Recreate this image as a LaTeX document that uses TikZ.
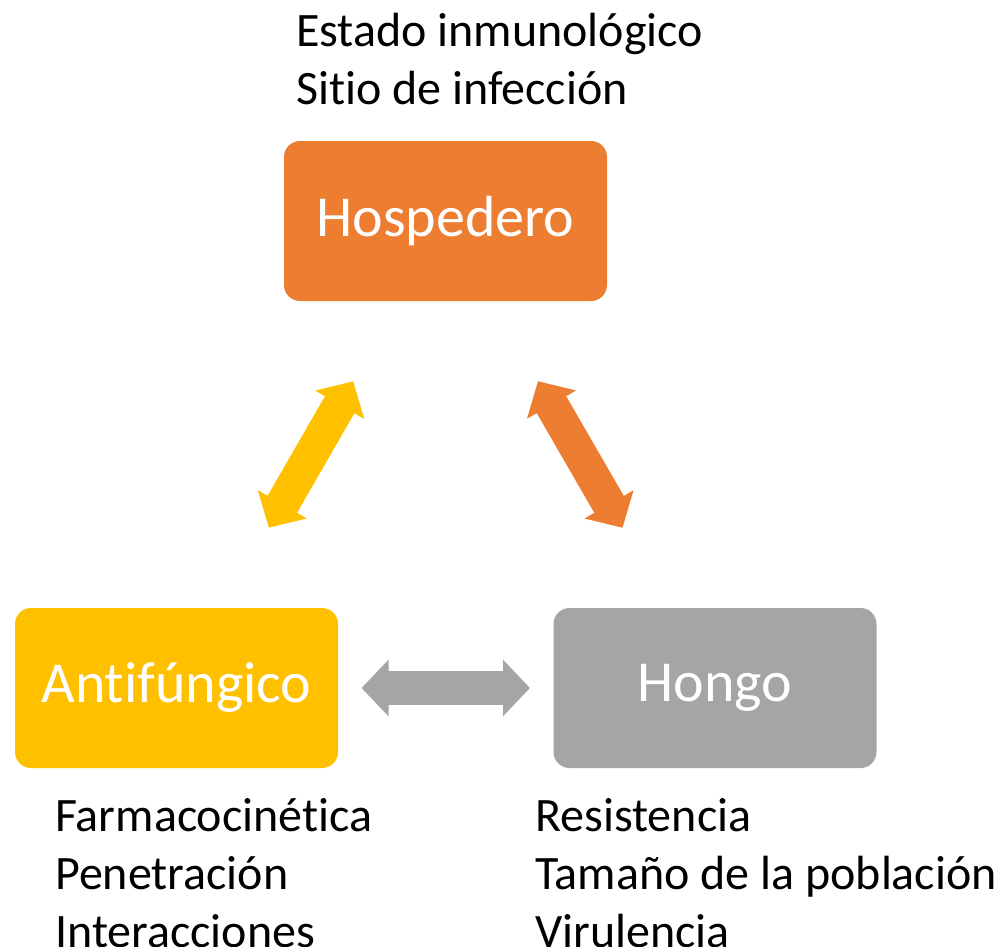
\documentclass[tikz,border=0pt]{standalone}
\usepackage{fontspec}
\setmainfont{Carlito}[Ligatures=NoCommon]
\usetikzlibrary{arrows.meta,positioning}
\definecolor{hospcol}{HTML}{ED7D31}
\definecolor{anticol}{HTML}{FFC000}
\definecolor{hongocol}{HTML}{A5A5A5}
\begin{document}
\begin{tikzpicture}[x=1pt,y=-1pt,
    box/.style={rounded corners=16pt,minimum width=323pt,minimum height=160pt,
      inner sep=0pt,text=white,font=\fontsize{58}{70}\selectfont},
    factors/.style={align=left,anchor=north west,inner sep=0pt,
      font=\fontsize{48}{58}\selectfont},
    link/.style={line width=34pt,
      {Triangle[width=55pt,length=27pt]}-{Triangle[width=55pt,length=27pt]},
      shorten <=185pt,shorten >=185pt}]
  \useasboundingbox (0,0) rectangle (1000,946);
  % the three boxes
  \node[box,fill=hospcol] (hosp) at (445.5,221) {Hospedero};
  \node[box,fill=anticol] (anti) at (176.5,688) {Antifúngico};
  \node[box,fill=hongocol] (hongo) at (715,688) {Hongo};
  % factor lists
  \node[factors] (hospf) at (296,13) {Estado inmunológico\\Sitio de infección};
  \node[factors] (antif) at (55,798) {Farmacocinética\\Penetración\\Interacciones};
  \node[factors] (hongof) at (535,798) {Resistencia\\Tamaño de la población\\Virulencia};
  % double arrows
  \draw[link,anticol] (anti.center) -- (hosp.center);
  \draw[link,hospcol] (hosp.center) -- (hongo.center);
  \draw[link,hongocol] (anti.center) -- (hongo.center);
\end{tikzpicture}
\end{document}
